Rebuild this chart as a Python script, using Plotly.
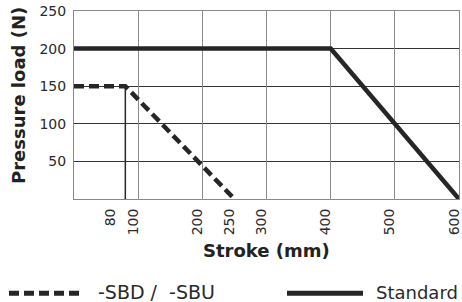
import plotly.graph_objects as go

std_x = [0, 400, 600]
std_y = [200, 200, 0]
sbd_x = [0, 80, 250]
sbd_y = [150, 150, 0]
mark_x = [80, 80]
mark_y = [0, 150]
x_ticks = [100, 200, 250, 300, 400, 500, 600]
x_grid = [100, 200, 300, 400, 500]
y_ticks = [50, 100, 150, 200, 250]
x_title = "Stroke (mm)"
y_title = "Pressure load (N)"
legend_names = ["-SBD / -SBU", "Standard"]

FONT = "DejaVu Sans"
LINE = "#262626"
TXT = "#2a2a2a"

fig = go.Figure()
fig.add_trace(go.Scatter(x=mark_x, y=mark_y, mode="lines",
                         line=dict(color=LINE, width=1.5), showlegend=False))
fig.add_trace(go.Scatter(x=std_x, y=std_y, mode="lines", name=legend_names[1],
                         line=dict(color=LINE, width=4.5), showlegend=False))
fig.add_trace(go.Scatter(x=sbd_x, y=sbd_y, mode="lines", name=legend_names[0],
                         line=dict(color=LINE, width=4.5, dash="10px,5px"), showlegend=False))
# dummy trace on grid axis
fig.add_trace(go.Scatter(x=[None], y=[None], xaxis="x2", showlegend=False))

fig.update_layout(
    width=462, height=302,
    margin=dict(l=74, r=3, t=11, b=103, autoexpand=False),
    plot_bgcolor="white", paper_bgcolor="white",
    font=dict(family=FONT, size=14, color=TXT),
    xaxis=dict(range=[0, 600], tickvals=x_ticks, ticktext=[str(v) for v in x_ticks],
               tickangle=-90, showgrid=False, zeroline=False, automargin=False,
               showline=True, linecolor="#888", linewidth=1, mirror=True,
               ticks="", tickfont=dict(size=14, color=TXT), ticklabelshift=-5,
               ticklabelstandoff=3),
    xaxis2=dict(range=[0, 600], overlaying="x", tickvals=x_grid, showgrid=True,
                gridcolor="#8a8a8a", gridwidth=1, showticklabels=False, automargin=False,
                zeroline=False, ticks=""),
    yaxis=dict(range=[0, 250], tickvals=y_ticks, showgrid=True, gridcolor="#333",
               gridwidth=1, zeroline=False, showline=True, linecolor="#888",
               linewidth=1, mirror=True, ticks="", tickfont=dict(size=14, color=TXT),
               ticklabelstandoff=4, automargin=False),
)

# label for 80 with leader line
fig.add_annotation(x=80, y=0, xref="x", yref="y", text="80", textangle=-90,
                   showarrow=False, xanchor="center", yanchor="top",
                   xshift=-15, yshift=-7, font=dict(size=14, color=TXT))
fig.add_shape(type="line", xref="x", yref="y", xsizemode="pixel", ysizemode="pixel",
              xanchor=80, yanchor=0, x0=0, x1=-6, y0=0, y1=-6,
              line=dict(color=LINE, width=1.5))

# axis titles
fig.add_annotation(x=0.5, y=-0.272, xref="paper", yref="paper", text="<b>" + x_title + "</b>",
                   showarrow=False, xanchor="center", yanchor="middle",
                   font=dict(size=18, color="#222"))
fig.add_annotation(x=-0.1455, y=0.553, xref="paper", yref="paper", text="<b>" + y_title + "</b>",
                   showarrow=False, xanchor="center", yanchor="middle", textangle=-90,
                   font=dict(size=18, color="#222"))

# manual legend
def px_x(p):
    return (p - 74) / 385.0

def px_y(p):
    return (199 - p) / 187.5

ly = px_y(293)
fig.add_shape(type="line", xref="paper", yref="paper", x0=px_x(9), x1=px_x(83), y0=ly, y1=ly,
              line=dict(color=LINE, width=5, dash="10px,5px"))
fig.add_shape(type="line", xref="paper", yref="paper", x0=px_x(287), x1=px_x(363), y0=ly, y1=ly,
              line=dict(color=LINE, width=5))
fig.add_annotation(x=px_x(96), y=px_y(292), xref="paper", yref="paper",
                   text=legend_names[0].replace("/ ", "/ &nbsp;"),
                   showarrow=False, xanchor="left", yanchor="middle",
                   font=dict(size=19, color=TXT))
fig.add_annotation(x=px_x(374), y=px_y(292), xref="paper", yref="paper", text=legend_names[1],
                   showarrow=False, xanchor="left", yanchor="middle",
                   font=dict(size=18, color=TXT))

fig.write_html("out.html", config={"displayModeBar": False},
               post_script="document.body.style.margin='0';document.body.style.padding='0';")
